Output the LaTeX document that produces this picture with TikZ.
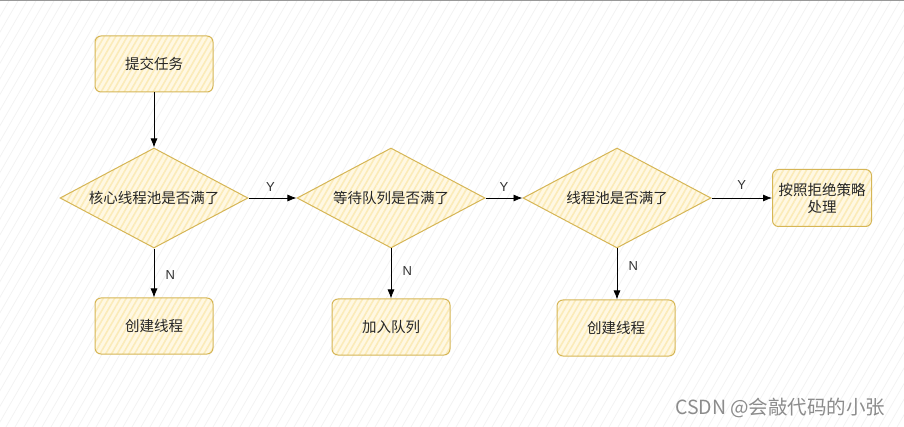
\documentclass[tikz,border=0pt]{standalone}
\usepackage{fontspec}
\setmainfont{Liberation Sans}
\newfontfamily\cjk{Noto Sans CJK SC}
\usetikzlibrary{shapes.geometric,arrows.meta,patterns.meta}
\definecolor{bordery}{HTML}{D6B656}
\definecolor{filly}{HTML}{FFF8E3}
\definecolor{hatchy}{HTML}{FBEBB8}
\tikzset{
  sketchfill/.style={preaction={fill=filly},pattern={Lines[angle=60,distance=5pt,line width=1.6pt]},pattern color=hatchy},
  procbox/.style={sketchfill,draw=bordery,line width=1pt,rounded corners=6pt,minimum width=118pt,minimum height=56pt,font=\cjk\fontsize{14.5}{17}\selectfont,align=center,text=black!85},
  endbox/.style={procbox,minimum width=99pt,minimum height=57pt},
  decision/.style={sketchfill,draw=bordery,line width=1pt,diamond,aspect=1.88,inner sep=0pt,minimum width=188pt,minimum height=100pt,font=\cjk\fontsize{14.5}{17}\selectfont,text=black!85},
  arr/.style={-{Latex[length=9pt,width=7pt]},line width=0.8pt},
  lab/.style={font=\fontsize{13}{15}\selectfont,text=black!80}
}
\begin{document}
\begin{tikzpicture}[x=1pt,y=-1pt]
\useasboundingbox (0,0) rectangle (904,427);
\fill[white] (0,0) rectangle (904,427);
\begin{scope}
\clip (0,0) rectangle (904,427);
\foreach \i in {-300,-291,...,910}{
  \draw[black!5,line width=0.7pt] (\i,427) -- ++(246.5,-427);
}
\end{scope}
\fill[black!40] (0,0) rectangle (904,1.5);

\node[procbox] (submit) at (154,64) {提交任务};
\node[decision] (d1) at (154,198) {核心线程池是否满了};
\node[decision] (d2) at (391,198) {等待队列是否满了};
\node[decision] (d3) at (617,198) {线程池是否满了};
\node[endbox] (reject) at (822,198) {按照拒绝策略\\处理};
\node[procbox] (c1) at (154,326) {创建线程};
\node[procbox] (q) at (391,327) {加入队列};
\node[procbox] (c2) at (616,328) {创建线程};

\draw[arr] (submit) -- (d1);
\draw[arr] (d1) -- node[lab,above=3pt,xshift=-2pt]{Y} (d2);
\draw[arr] (d2) -- node[lab,above=3pt]{Y} (d3);
\draw[arr] (d3) -- node[lab,above=5pt]{Y} (reject);
\draw[arr] (d1) -- node[lab,right=8pt,pos=0.55]{N} (c1);
\draw[arr] (d2) -- node[lab,right=8pt,pos=0.45]{N} (q);
\draw[arr] (d3.south) -- node[lab,right=8pt,pos=0.35]{N} (c2.north -| d3.south);

\node[font=\cjk\fontsize{19.5}{22}\selectfont,text=black!45,anchor=east] (wm) at (889,408) {CSDN @会敲代码的小张};
\end{tikzpicture}
\end{document}
